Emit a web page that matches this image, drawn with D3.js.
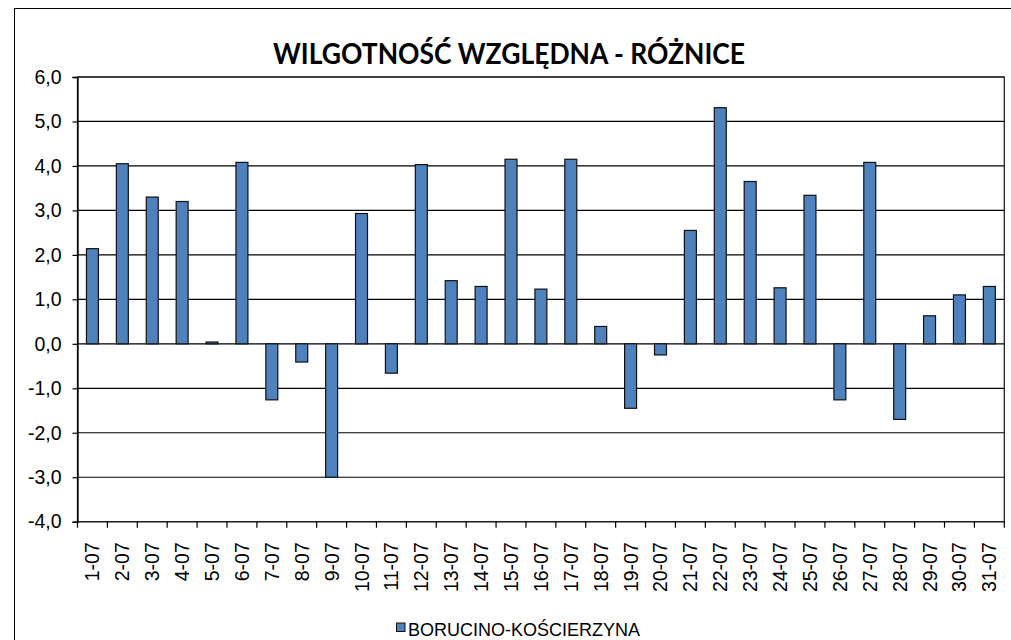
<!DOCTYPE html>
<html>
<head>
<meta charset="utf-8">
<script src="https://cdn.jsdelivr.net/npm/d3@7"></script>
<style>
    html, body { margin: 0; padding: 0; background: #ffffff; }
    svg { display: block; }
</style>
</head>
<body>
<div id="chart"></div>
<script>

var title_text = 'WILGOTNOŚĆ WZGLĘDNA - RÓŻNICE';
var series_name = 'BORUCINO-KOŚCIERZYNA';

var days = [
    '1-07', '2-07', '3-07', '4-07', '5-07', '6-07', '7-07', '8-07', '9-07', '10-07',
    '11-07', '12-07', '13-07', '14-07', '15-07', '16-07', '17-07', '18-07', '19-07', '20-07',
    '21-07', '22-07', '23-07', '24-07', '25-07', '26-07', '27-07', '28-07', '29-07', '30-07',
    '31-07'
];

var differences = [
    2.14, 4.05, 3.30, 3.20, 0.04, 4.08, -1.26, -0.41, -3.0, 2.93,
    -0.66, 4.03, 1.42, 1.29, 4.15, 1.23, 4.15, 0.39, -1.45, -0.25,
    2.55, 5.31, 3.65, 1.26, 3.34, -1.26, 4.08, -1.70, 0.63, 1.10,
    1.29
];

var y_ticks = [ -4, -3, -2, -1, 0, 1, 2, 3, 4, 5, 6 ];

draw_chart();

function draw_chart () {

    var width = 1011;
    var height = 640;

    var plot = { left: 77.5, right: 1004.3, top: 77, bottom: 521.7 };
    var axis_font = '"Liberation Sans", Arial, sans-serif';

    var svg = d3.select( '#chart' ).append( 'svg' )
        .attr( 'width', width )
        .attr( 'height', height );

    // Chart area border (right and bottom fall outside the picture)
    svg.append( 'rect' )
        .attr( 'x', 14.5 )
        .attr( 'y', 8.5 )
        .attr( 'width', 1020 )
        .attr( 'height', 700 )
        .attr( 'fill', 'white' )
        .attr( 'stroke', '#000' )
        .attr( 'stroke-width', 1 );

    var x = d3.scaleBand()
        .domain( days )
        .range( [ plot.left, plot.right ] )
        .paddingInner( 0.6 )
        .paddingOuter( 0.3 );

    var y = d3.scaleLinear()
        .domain( [ -4, 6 ] )
        .range( [ plot.bottom, plot.top ] );

    // Title
    svg.append( 'text' )
        .attr( 'x', 509 )
        .attr( 'y', 63.5 )
        .attr( 'text-anchor', 'middle' )
        .attr( 'font-family', 'Lato, "Open Sans", sans-serif' )
        .attr( 'font-weight', 'bold' )
        .attr( 'font-size', '28px' )
        .attr( 'textLength', 472 )
        .attr( 'lengthAdjust', 'spacingAndGlyphs' )
        .attr( 'fill', '#000' )
        .text( title_text );

    // Gridlines
    svg.append( 'g' )
        .selectAll( 'line' )
        .data( y_ticks )
        .join( 'line' )
        .attr( 'x1', plot.left )
        .attr( 'x2', plot.right )
        .attr( 'y1', function ( d ) { return y( d ); } )
        .attr( 'y2', function ( d ) { return y( d ); } )
        .attr( 'stroke', '#000' )
        .attr( 'stroke-width', 1.2 );

    // Plot area border
    svg.append( 'rect' )
        .attr( 'x', plot.left )
        .attr( 'y', plot.top )
        .attr( 'width', plot.right - plot.left )
        .attr( 'height', plot.bottom - plot.top )
        .attr( 'fill', 'none' )
        .attr( 'stroke', '#222' )
        .attr( 'stroke-width', 1.3 );

    // Bars
    svg.append( 'g' )
        .selectAll( 'rect' )
        .data( differences )
        .join( 'rect' )
        .attr( 'x', function ( d, i ) { return x( days[ i ] ); } )
        .attr( 'width', x.bandwidth() )
        .attr( 'y', function ( d ) { return y( Math.max( 0, d ) ); } )
        .attr( 'height', function ( d ) { return Math.abs( y( d ) - y( 0 ) ); } )
        .attr( 'fill', '#4F81BD' )
        .attr( 'stroke', '#111' )
        .attr( 'stroke-width', 1.2 );

    // Y axis
    var y_axis = d3.axisLeft( y )
        .tickValues( y_ticks )
        .tickSize( 5 )
        .tickPadding( 11 )
        .tickFormat( function ( d ) { return d3.format( '.1f' )( d ).replace( '.', ',' ).replace( '−', '-' ); } );

    var y_group = svg.append( 'g' )
        .attr( 'transform', 'translate(' + plot.left + ',0)' )
        .call( y_axis );

    y_group.select( '.domain' ).attr( 'stroke', '#000' ).attr( 'stroke-width', 1.3 );
    y_group.selectAll( '.tick line' ).attr( 'stroke', '#000' ).attr( 'stroke-width', 1.2 );
    y_group.selectAll( '.tick text' )
        .attr( 'font-family', axis_font )
        .attr( 'font-size', '19.5px' )
        .attr( 'fill', '#000' );

    // X axis: ticks between categories
    var boundaries = d3.range( days.length + 1 ).map( function ( i ) { return plot.left + i * ( plot.right - plot.left ) / days.length; } );

    svg.append( 'g' )
        .selectAll( 'line' )
        .data( boundaries )
        .join( 'line' )
        .attr( 'x1', function ( d ) { return d; } )
        .attr( 'x2', function ( d ) { return d; } )
        .attr( 'y1', plot.bottom )
        .attr( 'y2', plot.bottom + 6 )
        .attr( 'stroke', '#000' )
        .attr( 'stroke-width', 1.2 );

    svg.append( 'g' )
        .selectAll( 'text' )
        .data( days )
        .join( 'text' )
        .attr( 'transform', function ( d ) {
            var cx = x( d ) + x.bandwidth() / 2;
            return 'translate(' + ( cx + 7 ) + ',' + ( plot.bottom + 20.5 ) + ') rotate(-90)';
        })
        .attr( 'text-anchor', 'end' )
        .attr( 'font-family', axis_font )
        .attr( 'font-size', '19.5px' )
        .attr( 'fill', '#000' )
        .text( function ( d ) { return d; } );

    // Legend
    var legend = svg.append( 'g' )
        .attr( 'transform', 'translate(396,622.5)' );

    legend.append( 'rect' )
        .attr( 'x', 0.5 )
        .attr( 'y', 0.5 )
        .attr( 'width', 8.5 )
        .attr( 'height', 8.5 )
        .attr( 'fill', '#4F81BD' )
        .attr( 'stroke', '#111' )
        .attr( 'stroke-width', 1 );

    legend.append( 'text' )
        .attr( 'x', 12 )
        .attr( 'y', 13 )
        .attr( 'font-family', axis_font )
        .attr( 'font-size', '18px' )
        .attr( 'textLength', 232 )
        .attr( 'lengthAdjust', 'spacingAndGlyphs' )
        .attr( 'fill', '#000' )
        .text( series_name );

}

</script>
</body>
</html>
